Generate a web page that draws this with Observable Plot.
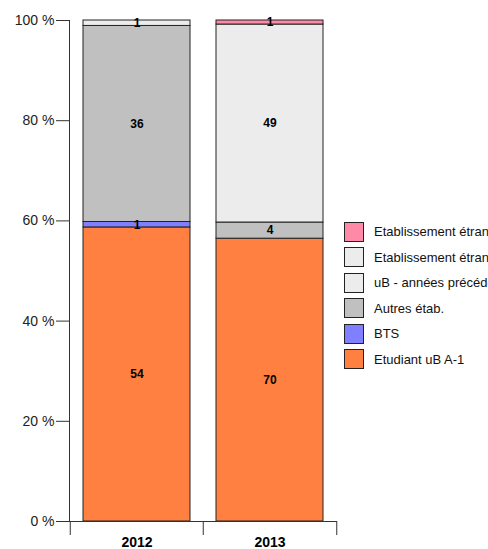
<!DOCTYPE html>
<html><head><meta charset="utf-8">
<script src="https://cdn.jsdelivr.net/npm/d3@7"></script>
<script src="https://cdn.jsdelivr.net/npm/@observablehq/plot@0.6"></script>
<style>
body{margin:0;overflow:hidden;width:488px;height:549px;font-family:"Liberation Sans",Arial,sans-serif;background:#fff;position:relative}
#legend{position:absolute;left:344px;top:219px;white-space:nowrap}
.row{display:flex;align-items:center;height:25.5px}
.sw{width:20px;height:20px;border:1.3px solid #222;box-sizing:border-box;margin-right:10px;flex:none}
.lb{font-size:13px;color:#111}
</style></head>
<body>
<div id="chart"></div>
<div id="legend"></div>
<script>
const years = ["2012", "2013"];
const categories = ["Etudiant uB A-1", "BTS", "Autres étab.", "uB - années précédentes", "Etablissement étranger UE", "Etablissement étranger hors UE"];
const colors = ["#ff8040", "#7f7fff", "#c0c0c0", "#ececec", "#ececec", "#ff8aa8"];
const values2012 = [54, 1, 36, 1, 0, 0];
const values2013 = [70, 0, 4, 49, 0, 1];
const yTicks = [0, 0.2, 0.4, 0.6, 0.8, 1];

const rows = [];
[values2012, values2013].forEach((vals, yi) => {
  vals.forEach((v, ci) => { if (v > 0) rows.push({year: years[yi], cat: categories[ci], order: ci, value: v}); });
});

const W = 488, H = 549, mL = 69, mR = 152, mT = 20, mB = 28;
const band = (W - mL - mR) / years.length;

const plot = Plot.plot({
  width: W, height: H,
  marginLeft: mL, marginRight: mR, marginTop: mT, marginBottom: mB,
  style: {fontFamily: "Liberation Sans, Arial, sans-serif", background: "#fff"},
  x: {domain: years, padding: 0, label: null},
  y: {domain: [0, 1], label: null},
  color: {domain: categories, range: colors},
  marks: [
    Plot.barY(rows, Plot.stackY({offset: "normalize", order: "order", x: "year", y: "value", fill: "cat", stroke: "#222", strokeWidth: 1, insetLeft: 13, insetRight: 13})),
    Plot.text(rows, Plot.stackY({offset: "normalize", order: "order", x: "year", y: "value", text: "value", fontWeight: "bold", fontSize: 12, fill: "#000"})),
    Plot.frame({anchor: "left", stroke: "#333"}),
    Plot.frame({anchor: "bottom", stroke: "#333"}),
    Plot.ruleX(years, {x: d => d, y1: 0, y2: 0, insetTop: 14, dx: -band / 2, stroke: "#333"}),
    Plot.ruleX(years.slice(-1), {x: d => d, y1: 0, y2: 0, insetTop: 14, dx: band / 2, stroke: "#333"}),
    Plot.axisY({ticks: yTicks, tickSize: 13, tickPadding: 2, fontSize: 14, tickFormat: d => Math.round(d * 100) + " %", stroke: "#333", fill: "#222"}),
    Plot.axisX({tickSize: 0, tickPadding: 16, fontSize: 14, fontWeight: "bold", fill: "#000"})
  ]
});
document.getElementById("chart").appendChild(plot);

const legend = document.getElementById("legend");
categories.slice().reverse().forEach((c, i) => {
  const col = colors[categories.length - 1 - i];
  const r = document.createElement("div"); r.className = "row";
  r.innerHTML = `<div class="sw" style="background:${col}"></div><span class="lb">${c}</span>`;
  legend.appendChild(r);
});
</script>
</body></html>
